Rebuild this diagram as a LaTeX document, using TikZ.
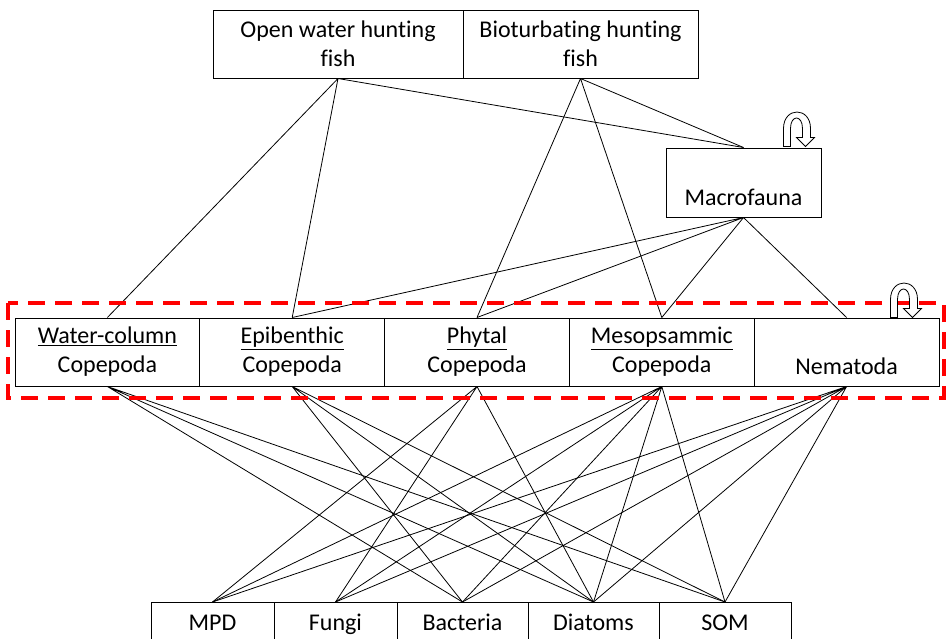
\documentclass[tikz,border=0pt]{standalone}
\usepackage{fontspec}
\setmainfont{Carlito}[Ligatures={NoCommon,NoContextual}]
\usetikzlibrary{calc}
\tikzset{
    box/.style={
        draw, black, line width=1pt, inner sep=0pt, align=center,
        font=\fontsize{24}{29}\selectfont
    },
    link/.style={black, line width=0.8pt},
    zone/.style={red, line width=3.5pt, dash pattern=on 17pt off 10pt},
    turn arrow/.pic={
        \path[draw, fill=white, line width=0.8pt]
        (0,0) -- (0,-18) .. controls (0,-40) and (27,-40) .. (27,-18) -- (27,-9)
        -- (31,-9) -- (22,0) -- (13,-9) -- (19,-9) -- (19,-18)
        .. controls (19,-32) and (7,-32) .. (7,-18) -- (7,0) -- cycle;
    }
}
\begin{document}
\begin{tikzpicture}[x=1pt, y=-1pt]
    \useasboundingbox (0,0) rectangle (948,638);
    \node[box, minimum width=250pt, minimum height=68pt] (owfish) at (338,44) {Open water hunting\\fish};
    \node[box, minimum width=235pt, minimum height=68pt] (btfish) at (580.5,44) {Bioturbating hunting\\fish};
    \node[box, minimum width=155pt, minimum height=69pt] (macro) at (743.5,182.5) {\vphantom{Wl}\\Macrofauna};
    \node[box, minimum width=184.8pt, minimum height=68pt] (wcc) at (107.4,352) {\underline{Water-column}\\Copepoda};
    \node[box, minimum width=184.8pt, minimum height=68pt] (epc) at (292.2,352) {\underline{Epibenthic}\\Copepoda};
    \node[box, minimum width=184.8pt, minimum height=68pt] (phc) at (477,352) {\underline{Phytal}\\Copepoda};
    \node[box, minimum width=184.8pt, minimum height=68pt] (msc) at (661.8,352) {\underline{Mesopsammic}\\Copepoda};
    \node[box, minimum width=184.8pt, minimum height=68pt] (nema) at (846.6,352) {\underline{\vphantom{Wl}}\\Nematoda};
    \node[box, minimum width=123pt, minimum height=41pt, anchor=north, text height=17pt, text depth=3pt] (mpd) at (212.5,602) {MPD};
    \node[box, minimum width=123pt, minimum height=41pt, anchor=north, text height=17pt, text depth=3pt] (fungi) at (335.5,602) {Fungi};
    \node[box, minimum width=131pt, minimum height=41pt, anchor=north, text height=17pt, text depth=3pt] (bact) at (462.5,602) {Bacteria};
    \node[box, minimum width=131pt, minimum height=41pt, anchor=north, text height=17pt, text depth=3pt] (diat) at (593.5,602) {Diatoms};
    \node[box, minimum width=132pt, minimum height=41pt, anchor=north, text height=17pt, text depth=3pt] (som) at (725,602) {SOM};

    \draw[link] (owfish.south) -- (wcc.north) (owfish.south) -- (epc.north) (owfish.south) -- (macro.north);
    \draw[link] (btfish.south) -- (phc.north) (btfish.south) -- (msc.north) (btfish.south) -- (macro.north);
    \draw[link] (macro.south) -- (epc.north) (macro.south) -- (phc.north) (macro.south) -- (msc.north) (macro.south) -- (nema.north);

    \draw[link] (wcc.south) -- (bact.north) (wcc.south) -- (diat.north) (wcc.south) -- (som.north);
    \draw[link] (epc.south) -- (bact.north) (epc.south) -- (diat.north) (epc.south) -- (som.north);
    \draw[link] (phc.south) -- (mpd.north) (phc.south) -- (fungi.north) (phc.south) -- (diat.north);
    \draw[link] (msc.south) -- (mpd.north) (msc.south) -- (fungi.north) (msc.south) -- (bact.north) (msc.south) -- (diat.north) (msc.south) -- (som.north);
    \draw[link] (nema.south) -- (mpd.north) (nema.south) -- (fungi.north) (nema.south) -- (bact.north) (nema.south) -- (diat.north) (nema.south) -- (som.north);

    \draw[zone] (8,303) rectangle (944,398);
    \pic at ($(macro.north east)+(-38,-1)$) {turn arrow};
    \pic at ($(nema.north east)+(-49,0)$) {turn arrow};
\end{tikzpicture}
\end{document}
